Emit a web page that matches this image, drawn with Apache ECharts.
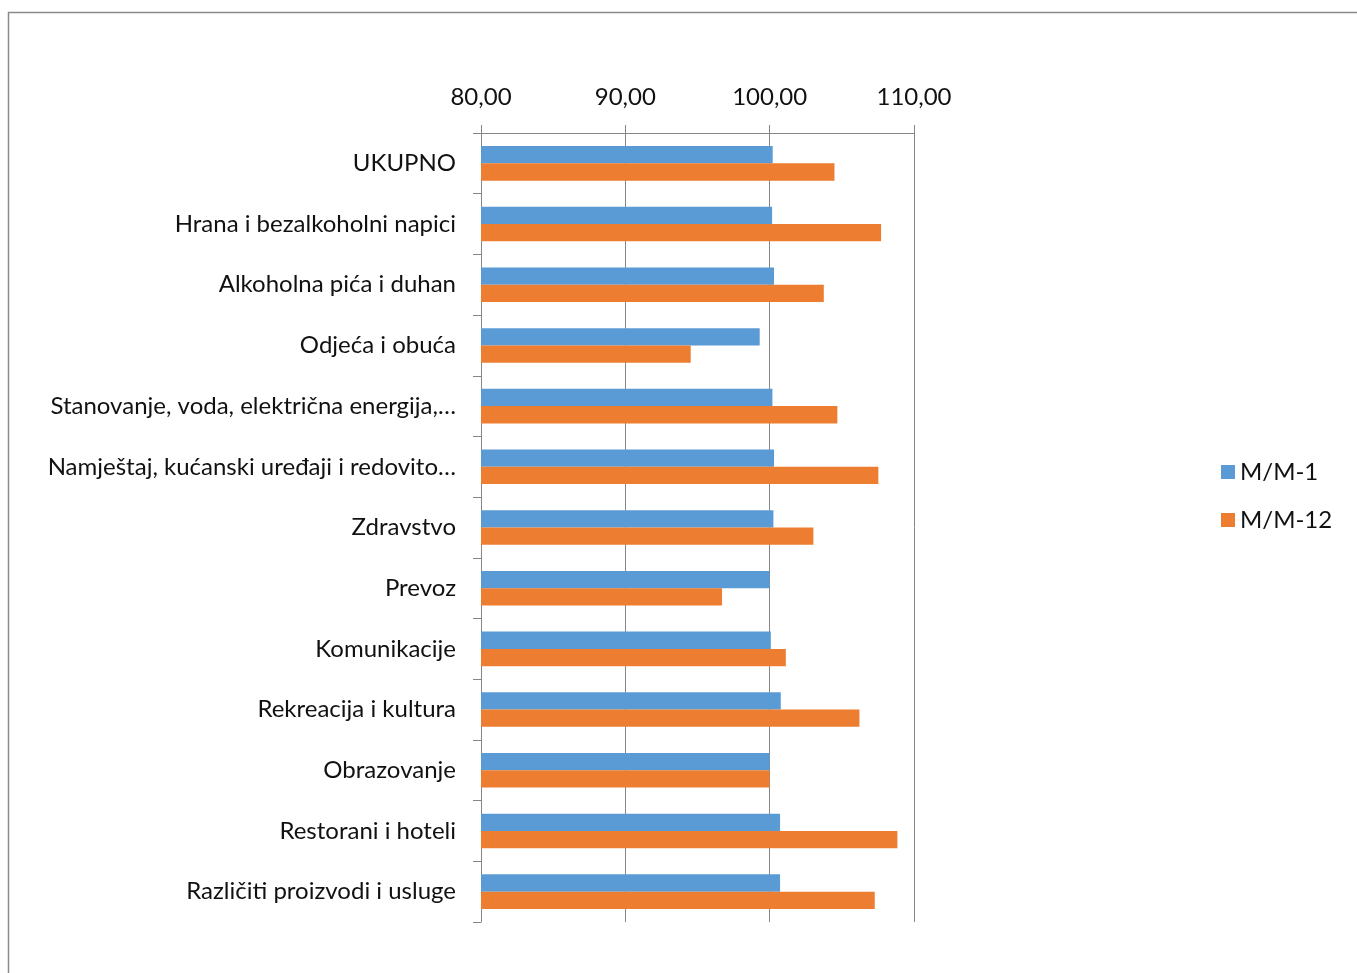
<!DOCTYPE html>
<html>
<head>
<meta charset="utf-8">
<script src="https://cdn.jsdelivr.net/npm/echarts@6/dist/echarts.min.js"></script>
<style>
html,body{margin:0;padding:0;background:#fff;}
#c{width:1357px;height:973px;}
</style>
</head>
<body>
<div id="c"></div>
<script>
var categories = [
  "UKUPNO",
  "Hrana i bezalkoholni napici",
  "Alkoholna pića i duhan",
  "Odjeća i obuća",
  "Stanovanje, voda, električna energija,…",
  "Namještaj, kućanski uređaji i redovito…",
  "Zdravstvo",
  "Prevoz",
  "Komunikacije",
  "Rekreacija i kultura",
  "Obrazovanje",
  "Restorani i hoteli",
  "Različiti proizvodi i usluge"
];
var seriesNames = ["M/M-1", "M/M-12"];
var mm1 = [100.21, 100.17, 100.30, 99.31, 100.19, 100.30, 100.26, 100.00, 100.08, 100.77, 100.00, 100.72, 100.72];
var mm12 = [104.49, 107.72, 103.75, 94.53, 104.69, 107.53, 103.03, 96.70, 101.12, 106.22, 100.00, 108.85, 107.28];
var xTicks = [80, 90, 100, 110];

var FONT = "Lato";
var chart = echarts.init(document.getElementById('c'));
chart.setOption({
  animation: false,
  color: ['#5B9BD5', '#ED7D31'],
  graphic: [{
    type: 'rect', silent: true,
    shape: {x: 8.5, y: 12.5, width: 1400, height: 1000},
    style: {fill: 'none', stroke: '#8a8a8a', lineWidth: 1.5}
  }],
  grid: {left: 481, right: 443, top: 133, bottom: 51, containLabel: false},
  legend: {
    orient: 'vertical', left: 1216, top: 455,
    itemWidth: 14, itemHeight: 14, itemGap: 24, icon: 'rect',
    textStyle: {fontFamily: FONT, fontSize: 24, color: '#111', lineHeight: 24},
    data: seriesNames
  },
  xAxis: {
    type: 'value', position: 'top', min: xTicks[0], max: xTicks[xTicks.length-1], interval: 10,
    axisLine: {show: true, lineStyle: {color: '#868686', width: 1}},
    axisTick: {show: true, length: 8, lineStyle: {color: '#868686'}},
    splitLine: {show: true, lineStyle: {color: '#868686', width: 1}},
    axisLabel: {
      fontFamily: FONT, fontSize: 24, color: '#111', margin: 24,
      formatter: function (v) { return v.toFixed(2).replace('.', ','); }
    }
  },
  yAxis: {
    type: 'category', inverse: true, data: categories,
    axisLine: {show: true, lineStyle: {color: '#868686', width: 1}},
    axisTick: {show: true, length: 8, lineStyle: {color: '#868686'}},
    axisLabel: {fontFamily: FONT, fontSize: 24, color: '#111', margin: 25}
  },
  series: [
    {name: seriesNames[0], type: 'bar', data: mm1, barGap: '0%', barCategoryGap: '43%'},
    {name: seriesNames[1], type: 'bar', data: mm12, barGap: '0%', barCategoryGap: '43%'}
  ]
});
</script>
</body>
</html>
